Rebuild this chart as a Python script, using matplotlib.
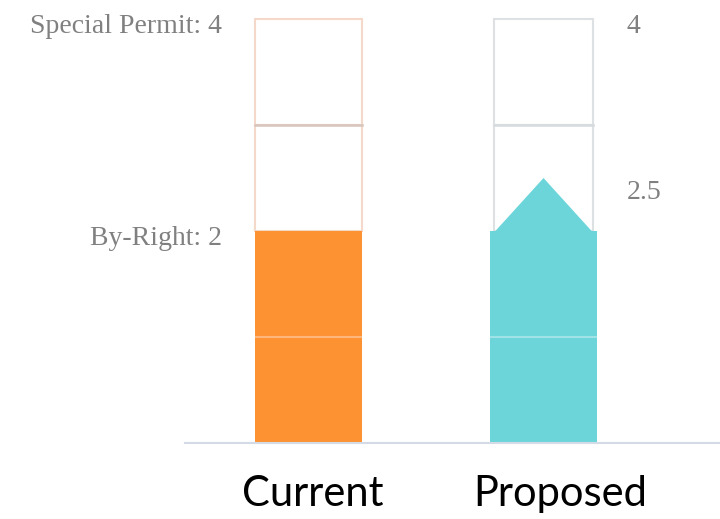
import numpy as np
import matplotlib.pyplot as plt
from matplotlib.patches import Rectangle, Polygon

categories = ['Current', 'Proposed']
filled_units = [2, 2]
capacity = [4, 4]
roof_peak = [None, 2.5]
left_labels = [('Special Permit: 4', 4), ('By-Right: 2', 2)]
right_labels = [('4', 4), ('2.5', 2.5)]

fill_colors = ['#FD9233', '#6CD5DA']
outline_colors = ['#F4D8C9', '#DDE1E4']
divider_colors = ['#D8C5BD', '#D6DBDE']

fig = plt.figure(figsize=(7.2, 5.19), dpi=100)
ax = fig.add_axes([0.257, 0.1464, 0.743, 0.8536])

x = np.arange(len(categories))
width = 0.455

for i, cat in enumerate(categories):
    # filled stories
    for k in range(filled_units[i]):
        ax.bar(x[i], 1, bottom=k, width=width, color=fill_colors[i],
               edgecolor='none', zorder=2)
        if k > 0:
            ax.plot([x[i] - width / 2, x[i] + width / 2], [k, k],
                    color='white', alpha=0.35, lw=1.5, zorder=3)
    # empty stories (outlines)
    ow = width if i == 0 else width * 0.93
    for k in range(filled_units[i], capacity[i]):
        ax.add_patch(Rectangle((x[i] - ow / 2, k), ow, 1, fill=False,
                               edgecolor=outline_colors[i], lw=1.5, zorder=1))
        if k > filled_units[i]:
            ax.plot([x[i] - ow / 2, x[i] + ow / 2], [k, k],
                    color=divider_colors[i], lw=1.8, zorder=1)
    # roof
    if roof_peak[i] is not None:
        rw = width * 0.9
        base = filled_units[i]
        ax.add_patch(Polygon([(x[i] - rw / 2, base), (x[i], roof_peak[i]),
                              (x[i] + rw / 2, base)], closed=True,
                             facecolor=fill_colors[i], edgecolor='none', zorder=2))

for txt, yv in left_labels:
    ax.text(-0.368, yv - 0.07, txt, ha='right', va='center',
            fontsize=20, color='#808080', family='Liberation Serif')
for txt, yv in right_labels:
    ax.text(1.355, yv - 0.07 if yv == 4 else yv - 0.14, txt, ha='left', va='center',
            fontsize=20, color='#808080', family='Liberation Serif')

label_offset = [0.02, 0.07]
for i, cat in enumerate(categories):
    ax.text(x[i] + label_offset[i], -0.48, cat, ha='center', va='center',
            fontsize=30, color='black', family='Lato')

ax.set_xlim(-0.5255, 1.751)
ax.set_ylim(0, 443 / 106)
for s in ['top', 'right', 'left']:
    ax.spines[s].set_visible(False)
ax.spines['bottom'].set_color('#D3DCE6')
ax.spines['bottom'].set_linewidth(1.5)
ax.set_xticks([])
ax.set_yticks([])

fig.savefig('out.png', dpi=100)
